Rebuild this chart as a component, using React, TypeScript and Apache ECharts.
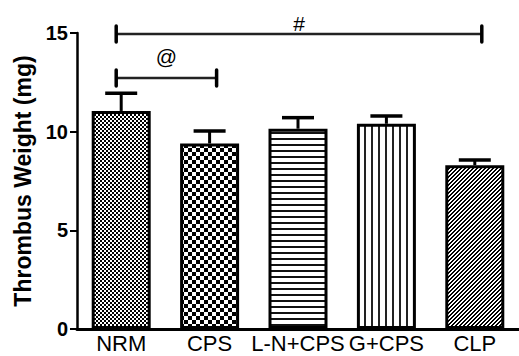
import React, { useEffect, useRef } from 'react';
import * as echarts from 'echarts';

const categories = ['NRM', 'CPS', 'L-N+CPS', 'G+CPS', 'CLP'];
const means = [11.05, 9.4, 10.15, 10.4, 8.3];
const errors = [0.9, 0.63, 0.56, 0.4, 0.27];
const yTicks = [0, 5, 10, 15];
const bracketFrom = ['NRM', 'NRM'];
const bracketTo = ['CPS', 'CLP'];
const bracketLevel = [12.72, 14.95];
const bracketMarks = ['@', '#'];
const bracketMarkLevel = [13.8, 15.5];

type Drawer = (ctx: CanvasRenderingContext2D) => void;

function makePattern(w: number, h: number, draw: Drawer) {
  const c = document.createElement('canvas');
  c.width = w;
  c.height = h;
  const ctx = c.getContext('2d') as CanvasRenderingContext2D;
  ctx.fillStyle = '#fff';
  ctx.fillRect(0, 0, w, h);
  ctx.fillStyle = '#000';
  draw(ctx);
  return { image: c, repeat: 'repeat' };
}

function buildPatterns() {
  const fineChecker = makePattern(4, 4, (ctx) => {
    ctx.fillRect(0, 0, 2, 2);
    ctx.fillRect(2, 2, 2, 2);
  });
  const coarseChecker = makePattern(8, 8, (ctx) => {
    ctx.fillRect(0, 0, 4, 4);
    ctx.fillRect(4, 4, 4, 4);
  });
  const horizontal = makePattern(6, 6, (ctx) => {
    ctx.fillStyle = '#111';
    ctx.fillRect(0, 0, 6, 2);
  });
  const vertical = makePattern(7, 7, (ctx) => {
    ctx.fillStyle = '#222';
    ctx.fillRect(0, 0, 2, 7);
  });
  const diagonal = makePattern(4, 4, (ctx) => {
    for (let x = 0; x < 4; x++) {
      for (let y = 0; y < 4; y++) {
        if ((x + y) % 4 === 0 || (x + y) % 4 === 1) ctx.fillRect(x, y, 1, 1);
      }
    }
  });
  return [fineChecker, coarseChecker, horizontal, vertical, diagonal];
}

export default function App() {
  const ref = useRef<HTMLDivElement>(null);

  useEffect(() => {
    if (!ref.current) return;
    const chart = echarts.init(ref.current, null, { renderer: 'svg' });
    const patterns = buildPatterns();

    const barData = means.map((v, i) => ({
      value: v,
      itemStyle: { color: patterns[i] as any },
    }));

    const errData = categories.map((_, i) => [i, means[i], errors[i]]);
    const bracketData = bracketFrom.map((f, i) => [
      categories.indexOf(f),
      categories.indexOf(bracketTo[i]),
      bracketLevel[i],
      bracketMarkLevel[i],
    ]);

    chart.setOption({
      animation: false,
      grid: { left: 77, right: 0, top: 33, bottom: 27 },
      xAxis: {
        type: 'category',
        data: categories,
        axisLine: { lineStyle: { color: '#000', width: 3 } },
        axisTick: { show: false },
        axisLabel: {
          color: '#000',
          fontFamily: 'Liberation Sans, Arial, sans-serif',
          fontSize: 22,
          margin: 3,
          interval: 0,
        },
      },
      yAxis: {
        type: 'value',
        min: yTicks[0],
        max: yTicks[yTicks.length - 1],
        interval: 5,
        name: 'Thrombus Weight (mg)',
        nameLocation: 'middle',
        nameGap: 40,
        nameTextStyle: {
          color: '#000',
          fontFamily: 'Liberation Sans, Arial, sans-serif',
          fontSize: 23,
          fontWeight: 'bold',
        },
        splitLine: { show: false },
        axisLine: { show: true, lineStyle: { color: '#000', width: 2.5 } },
        axisTick: { show: true, length: 7, lineStyle: { color: '#000', width: 2 } },
        axisLabel: {
          color: '#000',
          fontFamily: 'Liberation Sans, Arial, sans-serif',
          fontSize: 20,
          fontWeight: 'bold',
          margin: 9,
        },
      },
      series: [
        {
          type: 'bar',
          data: barData,
          barWidth: 59,
          itemStyle: { borderColor: '#000', borderWidth: 3 },
          z: 2,
        },
        {
          type: 'custom',
          data: errData,
          z: 3,
          clip: false,
          renderItem: (params: any, api: any) => {
            const x = api.value(0);
            const m = api.value(1);
            const e = api.value(2);
            const top = api.coord([x, m + e]);
            const base = api.coord([x, m]);
            return {
              type: 'group',
              children: [
                {
                  type: 'line',
                  shape: { x1: top[0], y1: top[1], x2: base[0], y2: base[1] },
                  style: { stroke: '#000', lineWidth: 3 },
                },
                {
                  type: 'line',
                  shape: { x1: top[0] - 16, y1: top[1], x2: top[0] + 16, y2: top[1] },
                  style: { stroke: '#000', lineWidth: 3.5 },
                },
              ],
            };
          },
        },
        {
          type: 'custom',
          data: bracketData,
          z: 4,
          clip: false,
          renderItem: (params: any, api: any) => {
            const a = api.coord([api.value(0), api.value(2)]);
            const b = api.coord([api.value(1), api.value(2)]);
            const t = api.coord([api.value(0), api.value(3)]);
            const x1 = a[0] - 5;
            const x2 = b[0] + 7;
            const y = a[1];
            return {
              type: 'group',
              children: [
                {
                  type: 'line',
                  shape: { x1, y1: y, x2, y2: y },
                  style: { stroke: '#222', lineWidth: 2.5 },
                },
                {
                  type: 'line',
                  shape: { x1, y1: y - 8, x2: x1, y2: y + 8 },
                  style: { stroke: '#000', lineWidth: 3.5, lineCap: 'round' },
                },
                {
                  type: 'line',
                  shape: { x1: x2, y1: y - 8, x2: x2, y2: y + 8 },
                  style: { stroke: '#000', lineWidth: 3.5, lineCap: 'round' },
                },
                {
                  type: 'text',
                  style: {
                    x: (x1 + x2) / 2,
                    y: t[1],
                    text: bracketMarks[params.dataIndex],
                    fill: '#000',
                    fontSize: 21,
                    fontFamily: 'Liberation Sans, Arial, sans-serif',
                    align: 'center',
                    verticalAlign: 'middle',
                  },
                },
              ],
            };
          },
        },
      ],
    });

    return () => chart.dispose();
  }, []);

  return (
    <div
      ref={ref}
      style={{ position: 'absolute', left: 0, top: 0, width: 519, height: 356 }}
    />
  );
}
